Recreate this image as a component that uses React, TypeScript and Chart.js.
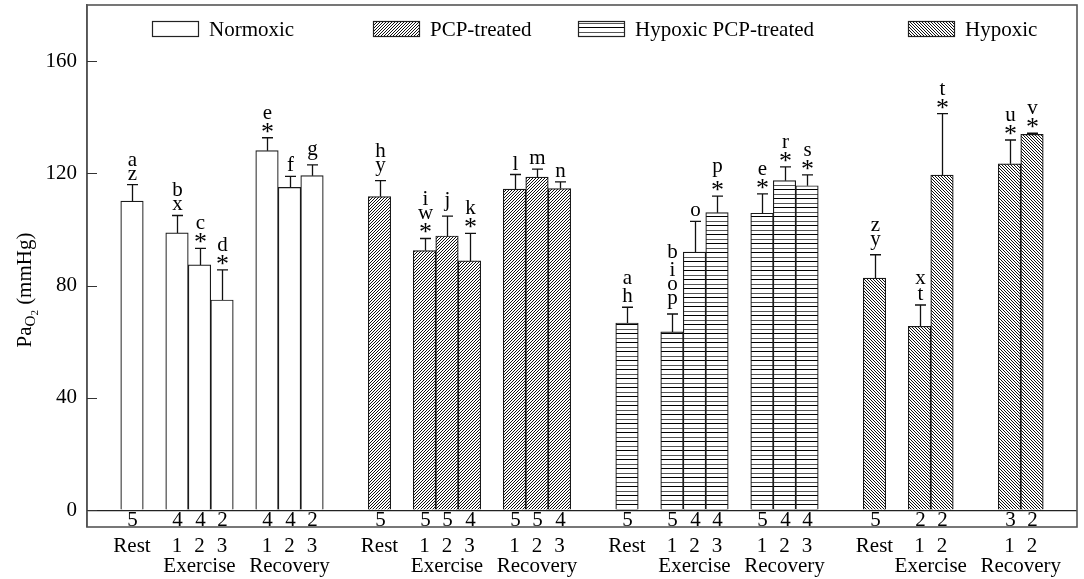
import React, { useEffect, useRef } from "react";
import { Chart, registerables } from "chart.js";

Chart.register(...registerables);

const FONT = "Liberation Serif";

// ---- Data ----
const seriesNames = ["Normoxic", "PCP-treated", "Hypoxic PCP-treated", "Hypoxic"];

const normoxicPos = [0, 2, 3, 4, 6, 7, 8];
const normoxicVals = [110.1, 98.8, 87.4, 74.9, 128.1, 115.0, 119.2];
const normoxicErr = [5.9, 6.2, 5.9, 10.7, 4.6, 3.9, 3.8];
const normoxicN = ["5", "4", "4", "2", "4", "4", "2"];
const normoxicMarks = [["a", "z"], ["b", "x"], ["c", "*"], ["d", "*"], ["e", "*"], ["f"], ["g"]];
const normoxicPhase = ["Rest", "1", "2", "3", "1", "2", "3"];

const pcpPos = [11, 13, 14, 15, 17, 18, 19];
const pcpVals = [111.7, 92.5, 97.7, 88.8, 114.4, 118.7, 114.6];
const pcpErr = [5.7, 4.3, 7.1, 9.8, 5.2, 2.8, 2.4];
const pcpN = ["5", "5", "5", "4", "5", "5", "4"];
const pcpMarks = [["h", "y"], ["i", "w", "*"], ["j"], ["k", "*"], ["l"], ["m"], ["n"]];
const pcpPhase = ["Rest", "1", "2", "3", "1", "2", "3"];

const hypPcpPos = [22, 24, 25, 26, 28, 29, 30];
const hypPcpVals = [66.7, 63.5, 92.0, 106.0, 105.8, 117.4, 115.6];
const hypPcpErr = [5.6, 6.4, 10.9, 5.9, 6.9, 4.9, 3.9];
const hypPcpN = ["5", "5", "4", "4", "5", "4", "4"];
const hypPcpMarks = [["a", "h"], ["b", "i", "o", "p"], ["o"], ["p", "*"], ["e", "*"], ["r", "*"], ["s", "*"]];
const hypPcpPhase = ["Rest", "1", "2", "3", "1", "2", "3"];

const hypPos = [33, 35, 36, 39, 40];
const hypVals = [82.7, 65.5, 119.4, 123.4, 133.9];
const hypErr = [8.3, 7.6, 21.9, 8.5, 0.4];
const hypN = ["5", "2", "2", "3", "2"];
const hypMarks = [["z", "y"], ["x", "t"], ["t", "*"], ["u", "*"], ["v", "*"]];
const hypPhase = ["Rest", "1", "2", "1", "2"];

const groupLabelNames = ["Exercise", "Recovery"];
const exercisePos = [[2, 3, 4], [13, 14, 15], [24, 25, 26], [35, 36]];
const recoveryPos = [[6, 7, 8], [17, 18, 19], [28, 29, 30], [39, 40]];

const yTicks = [0, 40, 80, 120, 160];

const groups = [
  { pos: normoxicPos, vals: normoxicVals, err: normoxicErr, n: normoxicN, marks: normoxicMarks, phase: normoxicPhase },
  { pos: pcpPos, vals: pcpVals, err: pcpErr, n: pcpN, marks: pcpMarks, phase: pcpPhase },
  { pos: hypPcpPos, vals: hypPcpVals, err: hypPcpErr, n: hypPcpN, marks: hypPcpMarks, phase: hypPcpPhase },
  { pos: hypPos, vals: hypVals, err: hypErr, n: hypN, marks: hypMarks, phase: hypPhase },
];

// ---- Patterns (pixel-exact) ----
function makePattern(kind: string): CanvasPattern | string {
  if (kind === "none") return "#ffffff";
  const c = document.createElement("canvas");
  const w = kind === "horiz" ? 4 : 3;
  const h = kind === "horiz" ? 9 : 3;
  c.width = w;
  c.height = h;
  const g = c.getContext("2d")!;
  g.fillStyle = "#ffffff";
  g.fillRect(0, 0, w, h);
  g.fillStyle = "#111";
  if (kind === "fwd") {
    for (let x = 0; x < w; x++) g.fillRect(x, h - 1 - x, 1, 1);
  } else if (kind === "back") {
    for (let x = 0; x < w; x++) g.fillRect(x, x, 1, 1);
  } else if (kind === "horiz") {
    g.fillStyle = "#000";
    g.fillRect(0, 0, w, 1);
    g.fillStyle = "#555";
    g.fillRect(0, 5, w, 1);
  }
  const ctxMain = document.createElement("canvas").getContext("2d")!;
  return ctxMain.createPattern(c, "repeat")!;
}

const patternKinds = ["none", "fwd", "horiz", "back"];
const legendBoxX = [152, 373, 578, 908];

export default function App() {
  const ref = useRef<HTMLCanvasElement>(null);

  useEffect(() => {
    document.body.style.margin = "0";
    const canvas = ref.current!;
    const fills = patternKinds.map(makePattern);

    const overlay = {
      id: "overlay",
      afterDatasetsDraw(chart: any) {
        const ctx = chart.ctx;
        const xs = chart.scales.x;
        const ys = chart.scales.y;
        const area = chart.chartArea;
        ctx.save();
        groups.forEach((g) => {
          g.pos.forEach((p, i) => {
            const cx = Math.round(xs.getPixelForValue(p)) + 0.5;
            const top = ys.getPixelForValue(g.vals[i]);
            const cap = ys.getPixelForValue(g.vals[i] + g.err[i]);
            ctx.strokeStyle = "#111";
            ctx.lineWidth = 1.3;
            ctx.beginPath();
            ctx.moveTo(cx, top);
            ctx.lineTo(cx, cap);
            ctx.moveTo(cx - 5.5, cap);
            ctx.lineTo(cx + 5.5, cap);
            ctx.stroke();
            ctx.fillStyle = "#000";
            ctx.textAlign = "center";
            ctx.textBaseline = "alphabetic";
            let cursor = cap - 5;
            const marks = g.marks[i];
            for (let k = marks.length - 1; k >= 0; k--) {
              const s = marks[k];
              ctx.font = s === "*" ? `26px ${FONT}` : `21px ${FONT}`;
              const m = ctx.measureText(s);
              const base = cursor - m.actualBoundingBoxDescent;
              ctx.fillText(s, cx, base);
              cursor = base - m.actualBoundingBoxAscent - 4;
            }
            ctx.font = `21px ${FONT}`;
            ctx.fillText(g.n[i], cx, area.bottom - 1);
          });
        });
        ctx.restore();
      },
      afterDraw(chart: any) {
        const ctx = chart.ctx;
        const xs = chart.scales.x;
        const ys = chart.scales.y;
        const a = chart.chartArea;
        ctx.save();
        ctx.strokeStyle = "#555";
        ctx.lineWidth = 1.6;
        ctx.strokeRect(a.left, a.top, a.right - a.left, a.bottom - a.top);
        ctx.strokeStyle = "#333";
        ctx.lineWidth = 1.2;
        ctx.beginPath();
        yTicks.forEach((v) => {
          const py = Math.round(ys.getPixelForValue(v)) + 0.5;
          ctx.moveTo(a.left, py);
          ctx.lineTo(a.left + 10, py);
        });
        ctx.stroke();
        ctx.fillStyle = "#000";
        ctx.textAlign = "center";
        ctx.textBaseline = "alphabetic";
        ctx.font = `21px ${FONT}`;
        groups.forEach((g) => {
          g.pos.forEach((p, i) => {
            ctx.fillText(g.phase[i], xs.getPixelForValue(p), a.bottom + 25);
          });
        });
        [exercisePos, recoveryPos].forEach((arr, gi) => {
          arr.forEach((ps) => {
            const mid = (ps[0] + ps[ps.length - 1]) / 2;
            ctx.fillText(groupLabelNames[gi], xs.getPixelForValue(mid), a.bottom + 45);
          });
        });
        ctx.textAlign = "left";
        seriesNames.forEach((name, i) => {
          const bx = legendBoxX[i];
          ctx.fillStyle = fills[i] as any;
          ctx.fillRect(bx, 21, 46, 15);
          ctx.strokeStyle = "#222";
          ctx.lineWidth = 1.2;
          ctx.strokeRect(bx + 0.5, 21.5, 46, 15);
          ctx.fillStyle = "#000";
          ctx.font = `21px ${FONT}`;
          ctx.fillText(name, bx + 57, 36);
        });
        ctx.translate(31, 290);
        ctx.rotate(-Math.PI / 2);
        ctx.textAlign = "left";
        const parts: [string, number, number][] = [
          ["Pa", 21, 0],
          ["O", 15, 4],
          ["2", 11, 7],
          [" (mmHg)", 21, 0],
        ];
        let total = 0;
        parts.forEach(([t, sz]) => {
          ctx.font = `${sz}px ${FONT}`;
          total += ctx.measureText(t).width;
        });
        let px = -total / 2;
        parts.forEach(([t, sz, dy]) => {
          ctx.font = `${sz}px ${FONT}`;
          ctx.fillText(t, px, dy);
          px += ctx.measureText(t).width;
        });
        ctx.restore();
      },
    };

    const chart = new Chart(canvas, {
      type: "bar",
      data: {
        datasets: groups.map((g, gi) => ({
          label: seriesNames[gi],
          data: g.pos.map((p, i) => ({ x: p, y: g.vals[i] })),
          backgroundColor: fills[gi] as any,
          borderColor: "#1a1a1a",
          borderWidth: 1.2,
          borderSkipped: "start",
          barThickness: 22.5,
          grouped: false,
        })),
      },
      options: {
        responsive: false,
        animation: false,
        devicePixelRatio: 1,
        layout: { padding: { left: 0, right: 7, top: 5, bottom: 52 } },
        plugins: { legend: { display: false }, tooltip: { enabled: false } },
        scales: {
          x: {
            type: "linear",
            min: -2,
            max: 42,
            offset: false,
            display: false,
          },
          y: {
            min: -6,
            max: 180,
            afterFit: (s: any) => {
              s.width = 87;
              s.paddingTop = 0;
              s.paddingBottom = 0;
            },
            afterBuildTicks: (s: any) => {
              s.ticks = yTicks.map((v) => ({ value: v }));
            },
            ticks: {
              color: "#000",
              font: { family: FONT, size: 21 },
              padding: 10,
            },
            grid: {
              drawTicks: false,
              color: (c: any) => (c.tick && c.tick.value === 0 ? "#222" : "rgba(0,0,0,0)"),
              lineWidth: 1.3,
            },
            border: { display: true, color: "#555", width: 1.6 },
          },
        },
      },
      plugins: [overlay],
    } as any);

    return () => chart.destroy();
  }, []);

  return <canvas ref={ref} width={1084} height={579} style={{ display: "block" }} />;
}
